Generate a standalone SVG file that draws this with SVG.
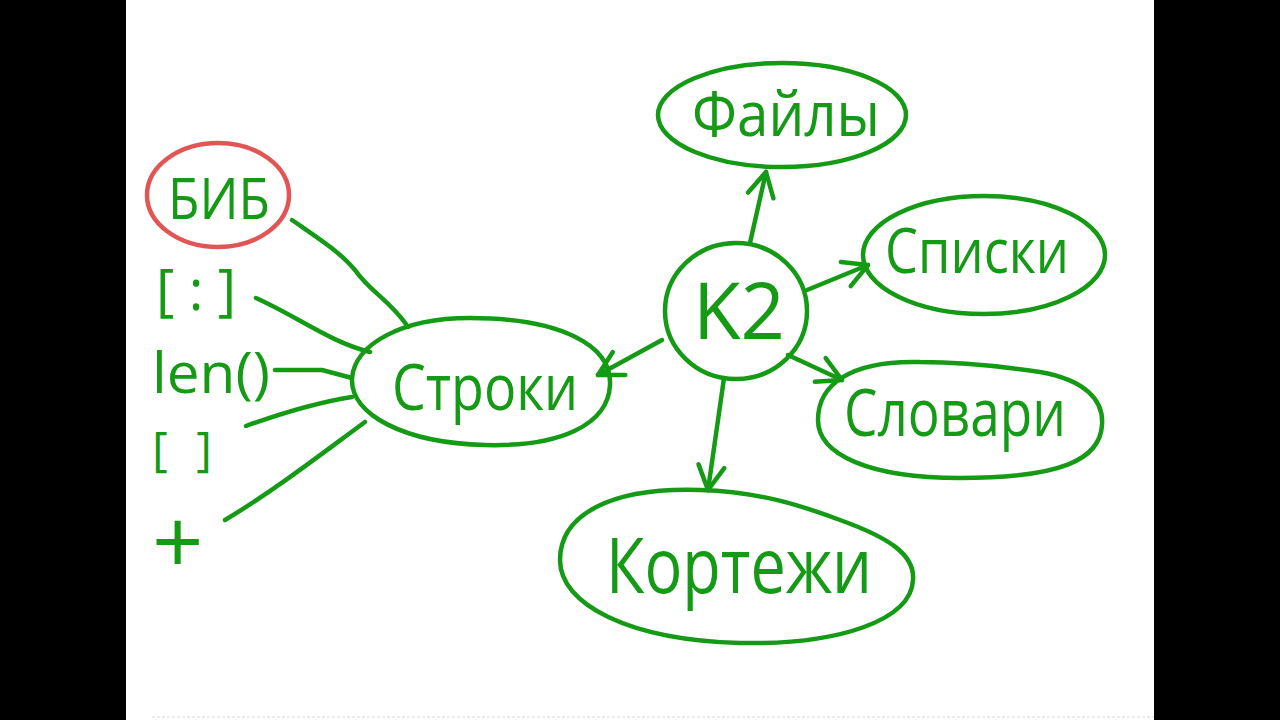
<svg xmlns="http://www.w3.org/2000/svg" width="1280" height="720" viewBox="0 0 1280 720">
<defs>
<style>
.g{fill:none;stroke:#159a15;stroke-width:4.5;stroke-linecap:round;stroke-linejoin:round}
.r{fill:none;stroke:#e25555;stroke-width:4.5}
.t{font-family:"Open Sans","Noto Sans",sans-serif;font-weight:400;fill:#159a15;text-anchor:middle}
.tr{font-family:"Open Sans","Noto Sans",sans-serif;font-weight:400;fill:#159a15}
</style>
<marker id="ah" markerUnits="userSpaceOnUse" markerWidth="40" markerHeight="40" viewBox="-30 -20 40 40" refX="0" refY="0" orient="auto">
<path d="M-24,-13 L0,0 L-24,13" fill="none" stroke="#159a15" stroke-width="4.5" stroke-linecap="round" stroke-linejoin="round"/>
</marker>
</defs>
<rect width="1280" height="720" fill="#000"/>
<rect x="126" y="0" width="1028" height="720" fill="#fff"/>
<line x1="152" y1="717" x2="1154" y2="717" stroke="#d8d8d8" stroke-width="1" stroke-dasharray="3,2"/>

<g id="connectors">
<path class="g" d="M292,220 C318,238 340,252 355,270 C370,292 390,300 408,327"/>
<path class="g" d="M256,298 C300,318 330,342 370,352"/>
<path class="g" d="M275,370 L322,370 L352,378"/>
<path class="g" d="M246,426 C285,412 320,402 352,397"/>
<path class="g" d="M225,520 C275,490 320,455 365,422"/>
<path class="g" d="M750,243 L766,172" marker-end="url(#ah)"/>
<path class="g" d="M807,290 L868,265" marker-end="url(#ah)"/>
<path class="g" d="M788,355 L842,380" marker-end="url(#ah)"/>
<path class="g" d="M724,378 L708,490" marker-end="url(#ah)"/>
<path class="g" d="M662,340 L598,375" marker-end="url(#ah)"/>
</g>

<g id="bib">
<ellipse class="r" cx="218" cy="195" rx="71" ry="52"/>
<text class="t" x="219" y="219" font-size="56" font-weight="600" textLength="102" lengthAdjust="spacingAndGlyphs">БИБ</text>
</g>
<g id="slice"><text class="tr" x="156" y="310" font-size="56" textLength="80" lengthAdjust="spacing">[:]</text></g>
<g id="len"><text class="tr" x="152" y="393" font-size="56" textLength="118" lengthAdjust="spacingAndGlyphs">len()</text></g>
<g id="index"><text class="tr" x="152" y="466" font-size="48" textLength="60" lengthAdjust="spacing">[ ]</text></g>
<g id="plus"><text class="tr" x="152" y="574" font-size="90" textLength="56" lengthAdjust="spacing">+</text></g>

<g id="stroki">
<path class="g" d="M352,378 C355,345 400,318 470,318 C560,318 612,345 610,385 C608,425 560,447 485,445 C405,443 350,415 352,378 Z"/>
<text class="t" x="485" y="410" font-size="64" textLength="186" lengthAdjust="spacingAndGlyphs">Строки</text>
</g>

<g id="k2">
<ellipse class="g" cx="736" cy="311" rx="71" ry="68"/>
<text class="t" x="739" y="339" font-size="78" textLength="92" lengthAdjust="spacingAndGlyphs">K2</text>
</g>

<g id="fayly">
<ellipse class="g" cx="782" cy="115" rx="124" ry="52"/>
<text class="t" x="786" y="136" font-size="62" textLength="188" lengthAdjust="spacingAndGlyphs">Файлы</text>
</g>

<g id="spiski">
<ellipse class="g" cx="984" cy="255" rx="121" ry="59"/>
<text class="t" x="977" y="273" font-size="62" textLength="184" lengthAdjust="spacingAndGlyphs">Списки</text>
</g>

<g id="slovari">
<path class="g" d="M818,420 C818,385 850,360 920,362 C960,362 1000,366 1040,372 C1085,380 1104,400 1102,425 C1100,460 1060,478 960,478 C870,478 818,455 818,420 Z"/>
<text class="t" x="955" y="436" font-size="66" textLength="222" lengthAdjust="spacingAndGlyphs">Словари</text>
</g>

<g id="kortezhi">
<path class="g" d="M560,560 C560,515 610,487 700,490 C760,492 800,505 840,520 C890,538 915,555 913,580 C911,620 840,645 740,643 C630,640 560,605 560,560 Z"/>
<text class="t" x="739" y="593" font-size="76" textLength="266" lengthAdjust="spacingAndGlyphs">Кортежи</text>
</g>
</svg>
